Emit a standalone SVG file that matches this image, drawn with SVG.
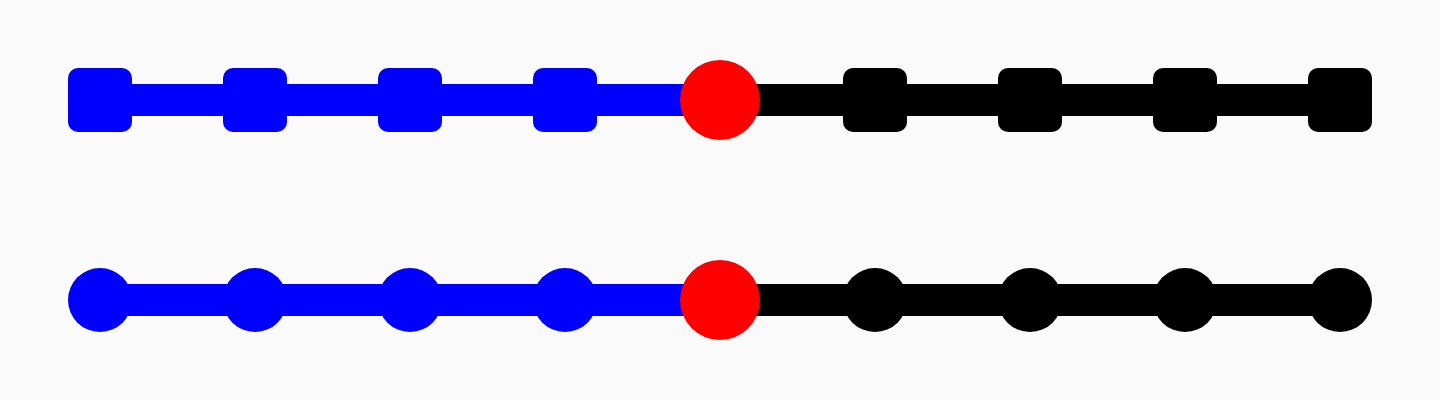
<svg xmlns="http://www.w3.org/2000/svg" width="1440" height="400" viewBox="0 0 1440 400">
<style>
.blue{fill:#0000ff}
.black{fill:#000000}
.red{fill:#ff0000}
.lb{stroke:#0000ff;stroke-width:32;fill:none}
.lk{stroke:#000000;stroke-width:32;fill:none}
</style>
<defs>
<rect id="sq" x="-32" y="-32" width="64" height="64" rx="10" ry="10"/>
<circle id="dot" r="32"/>
<circle id="mid" r="40"/>
</defs>
<rect width="1440" height="400" fill="#fafafa"/>
<g id="connectors">
<line class="lb" x1="100" y1="100" x2="720" y2="100"/>
<line class="lk" x1="720" y1="100" x2="1340" y2="100"/>
<line class="lb" x1="100" y1="300" x2="720" y2="300"/>
<line class="lk" x1="720" y1="300" x2="1340" y2="300"/>
</g>
<g id="t1" class="blue"><use href="#sq" x="100" y="100"/></g>
<g id="t2" class="blue"><use href="#sq" x="255" y="100"/></g>
<g id="t3" class="blue"><use href="#sq" x="410" y="100"/></g>
<g id="t4" class="blue"><use href="#sq" x="565" y="100"/></g>
<g id="t5" class="red"><use href="#mid" x="720" y="100"/></g>
<g id="t6" class="black"><use href="#sq" x="875" y="100"/></g>
<g id="t7" class="black"><use href="#sq" x="1030" y="100"/></g>
<g id="t8" class="black"><use href="#sq" x="1185" y="100"/></g>
<g id="t9" class="black"><use href="#sq" x="1340" y="100"/></g>
<g id="b1" class="blue"><use href="#dot" x="100" y="300"/></g>
<g id="b2" class="blue"><use href="#dot" x="255" y="300"/></g>
<g id="b3" class="blue"><use href="#dot" x="410" y="300"/></g>
<g id="b4" class="blue"><use href="#dot" x="565" y="300"/></g>
<g id="b5" class="red"><use href="#mid" x="720" y="300"/></g>
<g id="b6" class="black"><use href="#dot" x="875" y="300"/></g>
<g id="b7" class="black"><use href="#dot" x="1030" y="300"/></g>
<g id="b8" class="black"><use href="#dot" x="1185" y="300"/></g>
<g id="b9" class="black"><use href="#dot" x="1340" y="300"/></g>
</svg>
